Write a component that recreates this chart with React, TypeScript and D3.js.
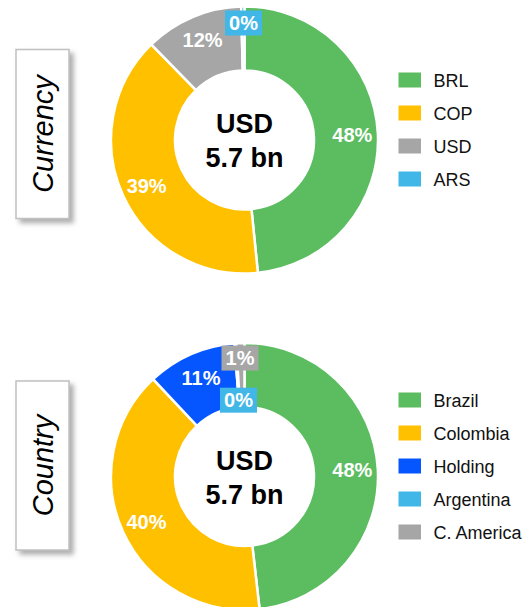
import React, { useEffect, useRef } from 'react';
import * as d3 from 'd3';

// chart values
const currencyNames = ['BRL', 'COP', 'USD', 'ARS'];
const currencyValues = [48.4, 39.3, 11.9, 0.4];
const currencyColors = ['#5BBD5F', '#FFC000', '#A6A6A6', '#41B7E7'];

const countryNames = ['Brazil', 'Colombia', 'Holding', 'Argentina', 'C. America'];
const countryValues = [48.2, 39.8, 10.8, 0.2, 1.0];
const countryColors = ['#5BBD5F', '#FFC000', '#0656FF', '#41B7E7', '#A6A6A6'];

const centerLines = ['USD', '5.7 bn'];

const FONT = '"Liberation Sans", Arial, sans-serif';

const App = () => {
  const svgRef = useRef<SVGSVGElement>(null);

  useEffect(() => {
    const svg = d3.select(svgRef.current);
    svg.selectAll('*').remove();

    const defs = svg.append('defs');
    const shadow = defs.append('filter')
      .attr('id', 'boxShadow')
      .attr('x', '-30%').attr('y', '-30%')
      .attr('width', '160%').attr('height', '160%');
    shadow.append('feDropShadow')
      .attr('dx', 4).attr('dy', 4)
      .attr('stdDeviation', 2.5)
      .attr('flood-color', '#8c8c8c')
      .attr('flood-opacity', 0.7);

    const rOuter = 133.5;
    const rInner = 69.5;

    // tiny slices get a boxed label at their own spot
    const smallLabels: Record<string, { r: number; x: number }> = {
      ARS: { r: 117, x: -1 },
      'C. America': { r: 118.5, x: -4.5 },
      Argentina: { r: 76.5, x: -6 },
    };

    const drawDonut = (
      cy: number,
      title: string,
      names: string[],
      values: number[],
      colors: string[],
      boxTop: number,
      boxBottom: number,
    ) => {
      const cx = 244.5;
      const g = svg.append('g').attr('transform', `translate(${cx},${cy})`);

      const data = names.map((n, i) => ({ name: n, value: values[i], color: colors[i] }));
      const pie = d3.pie<any>().sort(null).value(d => d.value);
      const arcs = pie(data);
      const arc = d3.arc<any>().innerRadius(rInner).outerRadius(rOuter);

      g.selectAll('path.slice')
        .data(arcs)
        .enter()
        .append('path')
        .attr('class', 'slice')
        .attr('d', arc)
        .attr('fill', d => d.data.color)
        .attr('stroke', '#fff')
        .attr('stroke-width', 2.5);

      // slice labels
      arcs.forEach(a => {
        const small = smallLabels[a.data.name];
        const mid = (a.startAngle + a.endAngle) / 2;
        const r = small ? small.r : 108;
        const x = small ? small.x : r * Math.sin(mid);
        const y = -r * Math.cos(mid);
        if (small) {
          g.append('rect')
            .attr('x', x - 18.5)
            .attr('y', y - 12.5)
            .attr('width', 37)
            .attr('height', 25)
            .attr('fill', a.data.color);
        }
        g.append('text')
          .attr('x', x)
          .attr('y', y)
          .attr('text-anchor', 'middle')
          .attr('dominant-baseline', 'central')
          .style('font-family', FONT)
          .style('font-weight', 'bold')
          .style('font-size', '20px')
          .style('fill', '#fff')
          .text(`${Math.round(a.data.value)}%`);
      });

      // center total
      centerLines.forEach((line, i) => {
        g.append('text')
          .attr('x', 0)
          .attr('y', i === 0 ? -7 : 27)
          .attr('text-anchor', 'middle')
          .style('font-family', FONT)
          .style('font-weight', 'bold')
          .style('font-size', '27px')
          .style('fill', '#000')
          .text(line);
      });

      // legend, centred a little above the donut centre
      const legendTop = cy - 10.5 - ((data.length - 1) * 33 + 15) / 2;
      const legend = svg.append('g').attr('transform', `translate(398.5,${legendTop})`);
      data.forEach((d, i) => {
        legend.append('rect')
          .attr('x', 0)
          .attr('y', i * 33)
          .attr('width', 22.5)
          .attr('height', 15)
          .attr('fill', d.color);
        legend.append('text')
          .attr('x', 35)
          .attr('y', i * 33 + 8)
          .attr('dominant-baseline', 'central')
          .style('font-family', FONT)
          .style('font-size', '18px')
          .style('fill', '#111')
          .text(d.name);
      });

      // side title box
      svg.append('rect')
        .attr('x', 16)
        .attr('y', boxTop)
        .attr('width', 53)
        .attr('height', boxBottom - boxTop)
        .attr('fill', '#fff')
        .attr('stroke', '#c0c0c0')
        .attr('stroke-width', 1.5)
        .attr('filter', 'url(#boxShadow)');
      svg.append('text')
        .attr('transform', `translate(43,${(boxTop + boxBottom) / 2}) rotate(-90)`)
        .attr('text-anchor', 'middle')
        .attr('dominant-baseline', 'central')
        .style('font-family', FONT)
        .style('font-style', 'italic')
        .style('font-size', '29px')
        .style('fill', '#000')
        .text(title);
    };

    drawDonut(140, 'Currency', currencyNames, currencyValues, currencyColors, 49.5, 218.5);
    drawDonut(476.5, 'Country', countryNames, countryValues, countryColors, 381, 550);
  }, []);

  return (
    <svg
      ref={svgRef}
      width={527}
      height={607}
      style={{ position: 'absolute', left: 0, top: 0, background: '#fff' }}
    />
  );
};

export default App;
